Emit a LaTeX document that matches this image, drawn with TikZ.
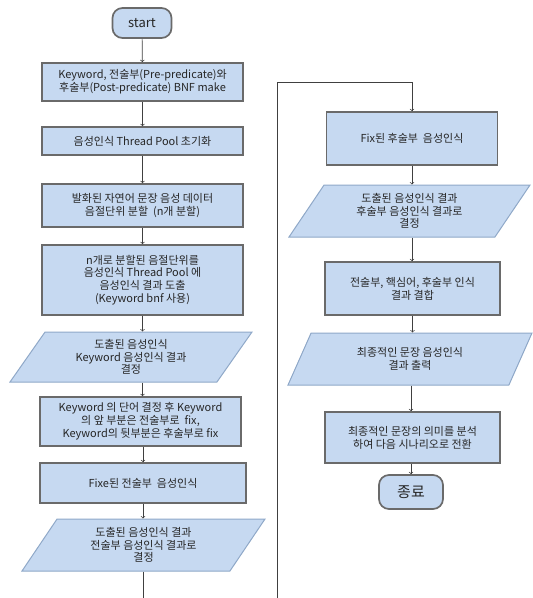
\documentclass[tikz,border=0pt]{standalone}
\usepackage{fontspec}
\setmainfont{Noto Sans CJK KR}
\usetikzlibrary{arrows,calc,shapes}
\definecolor{boxfill}{HTML}{C6D9F1}
\definecolor{boxline}{HTML}{6A6A6A}
\definecolor{ioline}{HTML}{8FA8C8}
\definecolor{arrowgray}{HTML}{404040}
\definecolor{textgray}{HTML}{262626}

\begin{document}
\begin{tikzpicture}[x=1pt,y=-1pt,text=textgray,
  font=\fontsize{11}{12.8}\selectfont,
  procbox/.style={draw=boxline,line width=1.7pt,fill=boxfill,align=center,inner sep=1pt},
  iobox/.style={trapezium,trapezium left angle=47,trapezium right angle=133,
    trapezium stretches body,draw=ioline,line width=1pt,fill=boxfill,align=center,inner sep=1pt},
  termbox/.style={draw=boxline,line width=1.7pt,fill=boxfill,rounded corners=10pt,inner sep=2pt},
  flow/.style={->,draw=arrowgray,line width=0.7pt}]
\useasboundingbox (0,0) rectangle (533,598);
% left column
\node[termbox,minimum width=59,minimum height=30,font=\fontsize{13}{15}\selectfont] (start) at (142,23) {start};
\node[procbox,minimum width=201,minimum height=38] (bnf) at (142.5,82) {Keyword, 전술부(Pre-predicate)와\\후술부(Post-predicate) BNF make};
\node[procbox,minimum width=201,minimum height=28] (pool) at (142.5,141) {음성인식 Thread Pool 초기화};
\node[procbox,minimum width=201,minimum height=43] (split) at (142.5,205.5) {발화된 자연어 문장 음성 데이터\\음절단위 분할 \ (n개 분할)};
\node[procbox,minimum width=201,minimum height=70] (recog) at (142.5,280) {n개로 분할된 음절단위를\\음성인식 Thread Pool 에\\음성인식 결과 도출\\(Keyword bnf 사용)};
\node[iobox,minimum width=242,minimum height=50] (kwres) at (131,357) {도출된 음성인식\\Keyword 음성인식 결과\\결정};
\node[procbox,minimum width=201,minimum height=49] (fix) at (140.5,421.5) {Keyword 의 단어 결정 후 Keyword\\의 앞 부분은 전술부로 \ fix,\\Keyword의 뒷부분은 후술부로 fix};
\node[procbox,minimum width=206,minimum height=40] (pre) at (143,483) {Fixe된 전술부 \ 음성인식};
\node[iobox,minimum width=243,minimum height=52] (preres) at (143.5,545) {도출된 음성인식 결과\\전술부 음성인식 결과로\\결정};
% right column
\node[procbox,minimum width=171,minimum height=53] (post) at (412,138.5) {Fix된 후술부 \ 음성인식};
\node[iobox,minimum width=241,minimum height=52] (postres) at (409.5,211) {도출된 음성인식 결과\\후술부 음성인식 결과로\\결정};
\node[procbox,minimum width=175,minimum height=53] (merge) at (412.5,288.5) {전술부, 핵심어, 후술부 인식\\결과 결합};
\node[iobox,minimum width=244,minimum height=52] (final) at (410,359) {최종적인 문장 음성인식\\결과 출력};
\node[procbox,minimum width=175,minimum height=51] (scen) at (412.5,437.5) {최종적인 문장의 의미를 분석\\하여 다음 시나리오로 전환};
\node[termbox,minimum width=64,minimum height=34,font=\fontsize{15}{17}\selectfont] (end) at (411,492) {종료};
% the arrows
\draw[flow] (start) -- (bnf);
\draw[flow] (bnf.south) -- (bnf.south |- pool.north);
\draw[flow] (pool.south) -- (pool.south |- split.north);
\draw[flow] (split.south) -- (split.south |- recog.north);
\draw[flow] (recog.south) -- (recog.south |- kwres.north);
\draw[flow] (kwres.south -| recog.south) -- (recog.south |- fix.north);
\draw[flow] (fix.south -| pre.north) -- (pre.north);
\draw[flow] (pre.south) -- (pre.south |- preres.north);
\coordinate (loopbot) at (277,598);
\coordinate (looptop) at (277,82);
\draw[arrowgray,line width=0.7pt] (preres.south) -- (preres.south |- loopbot);
\draw[flow] (loopbot) -- (looptop) -| (post.north);
\draw[flow] (post.south) -- (post.south |- postres.north);
\draw[flow] (postres.south -| post.south) -- (post.south |- merge.north);
\draw[flow] (merge.south) -- (merge.south |- final.north);
\draw[flow] (final.south -| end.north) -- (end.north |- scen.north);
\draw[flow] (scen.south -| end.north) -- (end.north);
\end{tikzpicture}
\end{document}
